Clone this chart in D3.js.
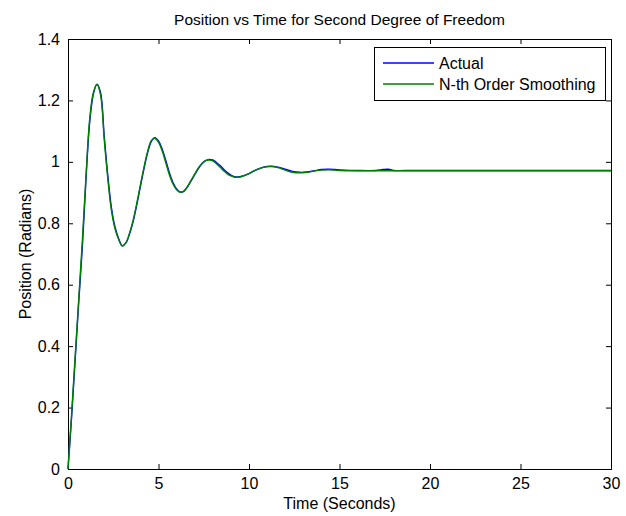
<!DOCTYPE html>
<html><head><meta charset="utf-8">
<script src="https://cdn.jsdelivr.net/npm/d3@7"></script>
<style>
html,body{margin:0;padding:0;background:#fff;}
svg text{font-family:"Liberation Sans",Arial,sans-serif;fill:#000;}
</style></head>
<body><svg id="c" width="626" height="516"></svg>
<script>
const titleText = "Position vs Time for Second Degree of Freedom";
const xLabel = "Time (Seconds)";
const yLabel = "Position (Radians)";
const seriesNames = ["Actual", "N-th Order Smoothing"];
const seriesColors = ["#0000ff", "#008000"];
const xTicks = [0, 5, 10, 15, 20, 25, 30];
const yTicks = [0, 0.2, 0.4, 0.6, 0.8, 1, 1.2, 1.4];

const time = [0,0.2,0.4,0.6,0.8,1.0,1.2,1.4,1.6,1.8,2.0,2.2,2.4,2.6,2.8,3.0,3.2,3.4,3.6,3.8,4.0,4.2,4.4,4.6,4.8,5.0,5.2,5.4,5.6,5.8,6.0,6.2,6.4,6.6,6.8,7.0,7.2,7.4,7.6,7.8,8.0,8.2,8.4,8.6,8.8,9.0,9.2,9.4,9.6,9.8,10.0,10.4,10.8,11.2,11.6,12.0,12.4,12.8,13.2,13.6,14.0,14.4,15,16,17,17.4,17.7,18,19,20,22,24,26,28,30];
const actual = [0,0.17,0.36,0.55,0.73,0.95,1.13,1.22,1.253,1.225,1.085,0.955,0.85,0.787,0.75,0.727,0.736,0.765,0.806,0.86,0.92,0.978,1.03,1.066,1.079,1.068,1.042,1.005,0.965,0.933,0.912,0.902,0.904,0.918,0.938,0.958,0.978,0.994,1.004,1.008,1.006,0.998,0.988,0.976,0.965,0.957,0.952,0.951,0.953,0.957,0.962,0.974,0.983,0.986,0.983,0.976,0.969,0.966,0.967,0.971,0.975,0.976,0.974,0.972,0.972,0.975,0.976,0.972,0.972,0.972,0.972,0.972,0.972,0.972,0.972];
const smoothed = [0,0.18,0.37,0.56,0.75,0.96,1.14,1.225,1.252,1.218,1.075,0.945,0.842,0.782,0.747,0.726,0.737,0.768,0.81,0.865,0.925,0.983,1.034,1.069,1.077,1.064,1.036,0.998,0.958,0.928,0.909,0.901,0.905,0.92,0.94,0.96,0.98,0.995,1.004,1.006,1.003,0.994,0.983,0.971,0.961,0.954,0.95,0.95,0.952,0.957,0.962,0.974,0.982,0.985,0.981,0.973,0.966,0.964,0.966,0.97,0.973,0.974,0.972,0.971,0.971,0.971,0.971,0.971,0.971,0.971,0.971,0.971,0.971,0.971,0.971];

const svg = d3.select("#c");
const m = {left:68, right:611, top:39, bottom:469};
const x = d3.scaleLinear().domain([0,30]).range([m.left, m.right]);
const y = d3.scaleLinear().domain([0,1.4]).range([m.bottom, m.top]);
const font = "16px";
const tl = 5;

// axes
const gx = svg.append("g").attr("transform", `translate(0,${m.bottom})`)
  .call(d3.axisBottom(x).tickValues(xTicks).tickSizeInner(-tl).tickSizeOuter(0).tickPadding(9).tickFormat(d3.format("d")));
const gxt = svg.append("g").attr("transform", `translate(0,${m.top})`)
  .call(d3.axisTop(x).tickValues(xTicks).tickSizeInner(-tl).tickSizeOuter(0).tickFormat(""));
const gy = svg.append("g").attr("transform", `translate(${m.left},0)`)
  .call(d3.axisLeft(y).tickValues(yTicks).tickSizeInner(-tl).tickSizeOuter(0).tickPadding(8).tickFormat(d => d3.format("")(+d.toFixed(1))));
const gyr = svg.append("g").attr("transform", `translate(${m.right},0)`)
  .call(d3.axisRight(y).tickValues(yTicks).tickSizeInner(-tl).tickSizeOuter(0).tickFormat(""));
[gx,gxt,gy,gyr].forEach(g=>{
  g.selectAll("path").attr("stroke","#000");
  g.selectAll("line").attr("stroke","#000");
  g.selectAll("text").style("font-size",font).style("font-family","Liberation Sans, Arial, sans-serif").attr("fill","#000");
});
svg.append("rect").attr("x",m.left).attr("y",m.top).attr("width",m.right-m.left).attr("height",m.bottom-m.top)
  .attr("fill","none").attr("stroke","#000").attr("stroke-width",1).attr("shape-rendering","crispEdges");

// lines
const line = vals => d3.line().x((d,i)=>x(time[i])).y(d=>y(d)).curve(d3.curveCatmullRom.alpha(0.5))(vals);
const plotG = svg.append("g");
[actual, smoothed].forEach((vals,i)=>{
  plotG.append("path").attr("d", line(vals)).attr("fill","none")
    .attr("stroke", seriesColors[i]).attr("stroke-width",1.4);
});

// labels
svg.append("text").attr("x",(m.left+m.right)/2).attr("y",25).attr("text-anchor","middle").style("font-size","15.5px").text(titleText);
svg.append("text").attr("x",(m.left+m.right)/2).attr("y",509).attr("text-anchor","middle").style("font-size",font).text(xLabel);
svg.append("text").attr("transform",`translate(31,${(m.top+m.bottom)/2}) rotate(-90)`).attr("text-anchor","middle").style("font-size",font).text(yLabel);

// legend
const lg = svg.append("g");
lg.append("rect").attr("x",374).attr("y",47.5).attr("width",231).attr("height",53).attr("fill","#fff").attr("stroke","#000").attr("shape-rendering","crispEdges");
const ly = [63, 84];
seriesNames.forEach((n,i)=>{
  lg.append("line").attr("x1",383).attr("x2",434).attr("y1",ly[i]).attr("y2",ly[i]).attr("stroke",seriesColors[i]).attr("stroke-width",1.3);
  lg.append("text").attr("x",439).attr("y",ly[i]+5.5).style("font-size",font).text(n);
});
</script></body></html>
